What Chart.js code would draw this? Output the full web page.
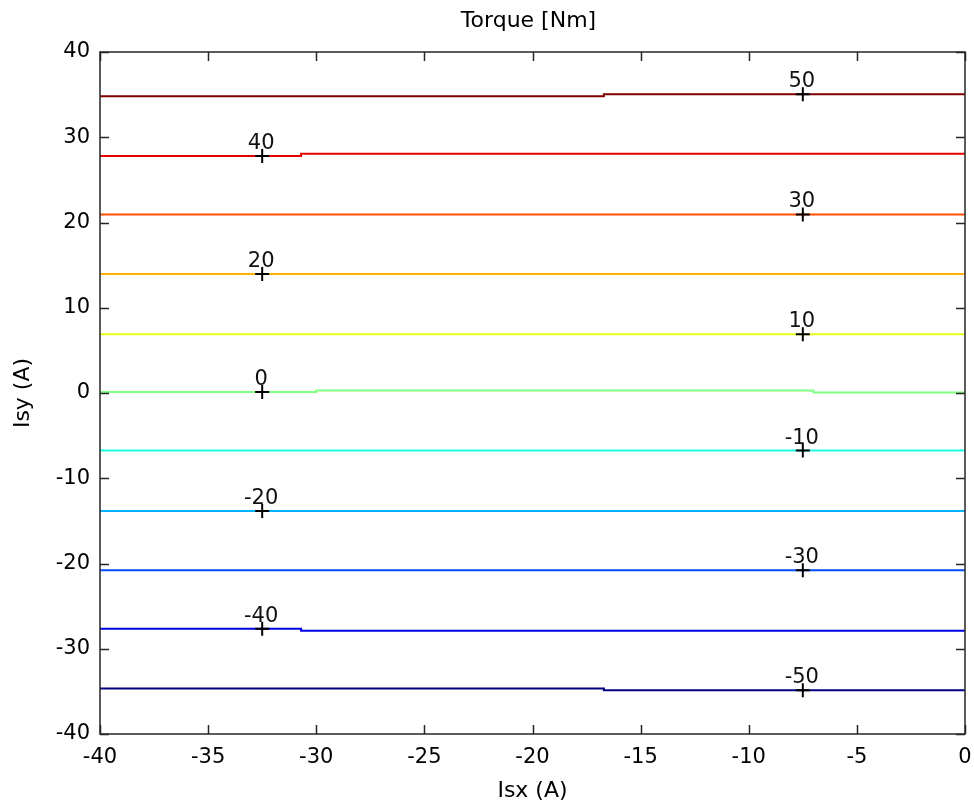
<!DOCTYPE html>
<html>
<head>
<meta charset="utf-8">
<script src="https://cdn.jsdelivr.net/npm/chart.js@4"></script>
<style>
  html, body { margin: 0; padding: 0; background: #fff; }
  #wrap { width: 974px; height: 806px; }
</style>
</head>
<body>
<div id="wrap"><canvas id="myChart"></canvas></div>
<script>
// contour levels (torque, Nm) and their jet colours
const levels = [50, 40, 30, 20, 10, 0, -10, -20, -30, -40, -50];
const levelColors = [
  "rgb(128,0,0)", "rgb(230,0,0)", "rgb(255,77,0)", "rgb(255,179,0)",
  "rgb(230,255,26)", "rgb(128,255,128)", "rgb(26,255,230)", "rgb(0,179,255)",
  "rgb(0,77,255)", "rgb(0,0,230)", "rgb(0,0,128)"
];

// vertices of each contour line, Isx (A)
const contourX = [
  [-40, -16.7, -16.7, 0],
  [-40, -30.7, -30.7, 0],
  [-40, 0],
  [-40, 0],
  [-40, 0],
  [-40, -30.0, -30.0, -7.0, -7.0, 0],
  [-40, 0],
  [-40, 0],
  [-40, 0],
  [-40, -30.7, -30.7, 0],
  [-40, -16.7, -16.7, 0],
];
// Isy (A) at those vertices
const contourY = [
  [34.8, 34.8, 35.05, 35.05],
  [27.8, 27.8, 28.05, 28.05],
  [20.95, 20.95],
  [13.95, 13.95],
  [6.9, 6.9],
  [0.12, 0.12, 0.3, 0.3, 0.05, 0.05],
  [-6.75, -6.75],
  [-13.85, -13.85],
  [-20.8, -20.8],
  [-27.65, -27.65, -27.9, -27.9],
  [-34.65, -34.65, -34.87, -34.87],
];

// clabel positions
const labelX = [-7.5, -32.5, -7.5, -32.5, -7.5, -32.5, -7.5, -32.5, -7.5, -32.5, -7.5];
const labelY = [35.05, 27.8, 20.95, 13.95, 6.9, 0.12, -6.75, -13.85, -20.8, -27.65, -34.87];

const xTicks = [-40, -35, -30, -25, -20, -15, -10, -5, 0];
const yTicks = [-40, -30, -20, -10, 0, 10, 20, 30, 40];

const FONT = "'DejaVu Sans', 'Liberation Sans', Arial, sans-serif";

const datasets = levels.map((lvl, i) => ({
  label: String(lvl),
  data: contourX[i].map((xv, j) => ({ x: xv, y: contourY[i][j] })),
  borderColor: levelColors[i],
  borderWidth: 2,
  pointRadius: 0,
  tension: 0,
  fill: false,
  order: 1,
}));

// "+" markers of clabel, drawn on top of the lines
datasets.push({
  label: "labels",
  data: labelX.map((xv, i) => ({ x: xv, y: labelY[i] })),
  showLine: false,
  pointStyle: "cross",
  pointRadius: 7,
  pointBorderWidth: 2,
  borderColor: "#000",
  backgroundColor: "#000",
  order: 0,
});

// MATLAB style box with inward ticks, plus the title over the plot box
const matlabAxes = {
  id: "matlabAxes",
  afterDraw(chart) {
    const { ctx, chartArea: a, scales } = chart;
    const x = scales.x;
    const y = scales.y;
    ctx.save();
    ctx.strokeStyle = "#262626";
    ctx.lineWidth = 1.5;
    ctx.strokeRect(a.left, a.top, a.right - a.left, a.bottom - a.top);
    ctx.beginPath();
    xTicks.forEach((t) => {
      const px = Math.round(x.getPixelForValue(t)) + 0.5;
      ctx.moveTo(px, a.bottom);
      ctx.lineTo(px, a.bottom - 9);
      ctx.moveTo(px, a.top);
      ctx.lineTo(px, a.top + 9);
    });
    yTicks.forEach((t) => {
      const py = Math.round(y.getPixelForValue(t)) + 0.5;
      ctx.moveTo(a.left, py);
      ctx.lineTo(a.left + 9, py);
      ctx.moveTo(a.right, py);
      ctx.lineTo(a.right - 9, py);
    });
    ctx.stroke();

    ctx.font = "22px " + FONT;
    ctx.fillStyle = "#000";
    ctx.textAlign = "center";
    ctx.textBaseline = "middle";
    ctx.fillText("Torque [Nm]", (a.left + a.right) / 2 - 4, 21);
    ctx.restore();
  },
};

// contour labels (clabel text)
const contourLabels = {
  id: "contourLabels",
  afterDatasetsDraw(chart) {
    const { ctx, scales } = chart;
    ctx.save();
    ctx.font = "21px " + FONT;
    ctx.fillStyle = "#111";
    ctx.textAlign = "center";
    ctx.textBaseline = "alphabetic";
    levels.forEach((lvl, i) => {
      const px = scales.x.getPixelForValue(labelX[i]);
      const py = scales.y.getPixelForValue(labelY[i]);
      ctx.fillText(String(lvl), px - 1, py - 7);
    });
    ctx.restore();
  },
};

new Chart(document.getElementById("myChart"), {
  type: "line",
  data: { datasets: datasets },
  plugins: [matlabAxes, contourLabels],
  options: {
    responsive: true,
    maintainAspectRatio: false,
    animation: false,
    layout: { padding: { top: 52, right: 0, left: 0, bottom: 0 } },
    plugins: {
      legend: { display: false },
      tooltip: { enabled: false },
      title: { display: false },
    },
    scales: {
      x: {
        type: "linear",
        min: -40,
        max: 0,
        afterBuildTicks: (scale) => {
          scale.ticks = xTicks.map((v) => ({ value: v }));
        },
        afterFit: (scale) => {
          scale.height = 72;
          scale.paddingRight = 8;
          scale.paddingLeft = 0;
        },
        grid: { display: false, drawTicks: false },
        border: { display: false },
        ticks: {
          color: "#000",
          font: { family: FONT, size: 21 },
          padding: 11,
          maxRotation: 0,
          autoSkip: false,
        },
        title: {
          display: true,
          text: "Isx (A)",
          color: "#000",
          font: { family: FONT, size: 22 },
          padding: { top: 0, bottom: 2 },
        },
      },
      y: {
        type: "linear",
        min: -40,
        max: 40,
        afterBuildTicks: (scale) => {
          scale.ticks = yTicks.map((v) => ({ value: v }));
        },
        afterFit: (scale) => {
          scale.width = 100;
          scale.paddingTop = 0;
          scale.paddingBottom = 0;
        },
        grid: { display: false, drawTicks: false },
        border: { display: false },
        ticks: {
          color: "#000",
          font: { family: FONT, size: 21 },
          padding: 10,
          autoSkip: false,
        },
        title: {
          display: true,
          text: "Isy (A)",
          color: "#000",
          font: { family: FONT, size: 22 },
          padding: { top: 10, bottom: 0 },
        },
      },
    },
  },
});
</script>
</body>
</html>
